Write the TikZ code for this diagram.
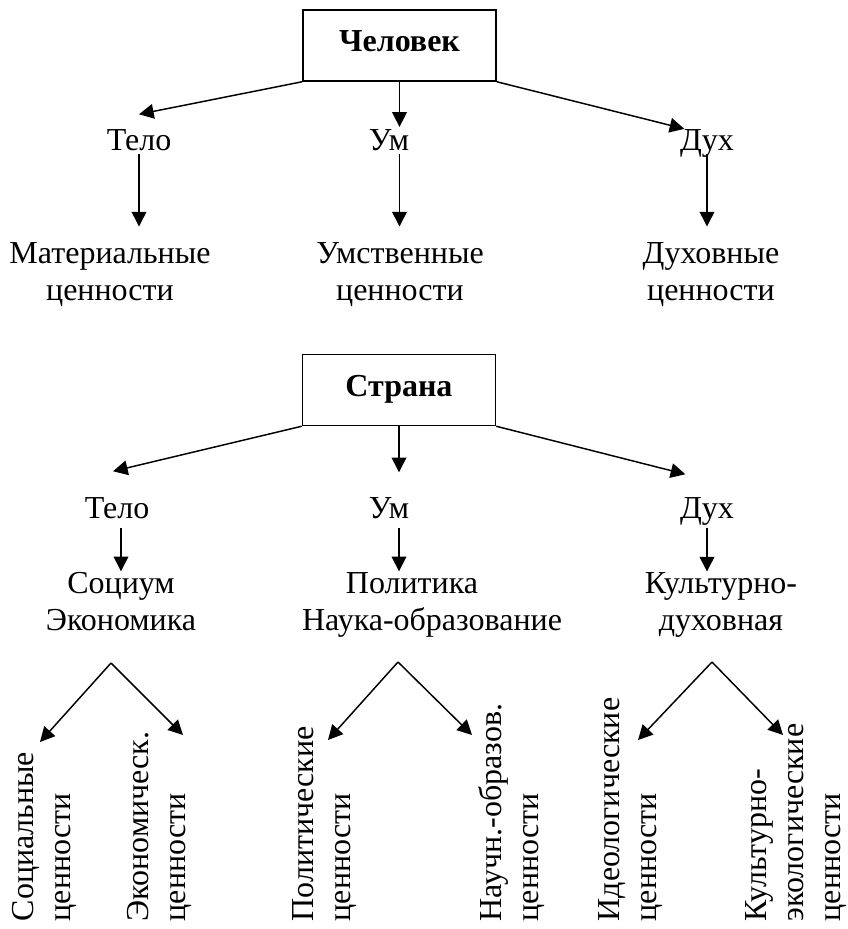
\documentclass[tikz,border=0pt]{standalone}
\usepackage{fontspec}
\setmainfont{Liberation Serif}
\usetikzlibrary{arrows.meta,calc}

\begin{document}
\fontsize{24pt}{27.6pt}\selectfont
\begin{tikzpicture}[x=0.75pt,y=-0.75pt,line width=1.1pt,
		arr/.style={-{Triangle[length=11pt,width=11pt]}},
		root/.style={draw,minimum width=144.75pt,minimum height=53.25pt,font=\bfseries,text depth=0.25em},
		lbl/.style={inner sep=0pt,text height=0.7em,text depth=0.1em,anchor=base},
		val/.style={inner sep=0pt,align=center,anchor=base},
		rot/.style={inner sep=0pt,align=left,rotate=90,anchor=base west}]
	\useasboundingbox (0,0) rectangle (847,929);

	% Человек
	\node[root] (chel) at (399.5,45.5) {Человек};
	\node[lbl] (telo1) at (139,150) {Тело};
	\node[lbl] (um1) at (389,150) {Ум};
	\node[lbl] (dux1) at (707,150) {Дух};
	\node[val] (mat) at (110,300) {Материальные\\ценности};
	\node[val] (umv) at (400,300) {Умственные\\ценности};
	\node[val] (duxv) at (711,300) {Духовные\\ценности};

	\draw[arr] (chel.south west) -- ($(telo1.north)+(0,-12.6)$);
	\draw[arr] (chel.south) -- (chel.south |- um1.north);
	\draw[arr] (chel.south east) -- ($(dux1.north west)+(5,2)$);
	\draw[arr] (telo1.south) -- ($(telo1.south |- mat.north)+(0,-15)$);
	\draw[arr] (chel.south |- um1.south) -- ($(chel.south |- umv.north)+(0,-15)$);
	\draw[arr] (dux1.south) -- ($(dux1.south |- duxv.north)+(0,-15)$);

	% Страна
	\node[root] (strana) at (399,390) {Страна};
	\node[lbl] (telo2) at (117,518) {Тело};
	\node[lbl] (um2) at (389,518) {Ум};
	\node[lbl] (dux2) at (707,518) {Дух};
	\node[val] (soc) at (121,630) {Социум\\Экономика};
	\node[val] (pol) at (412,593) {Политика};
	\node[val] (nauka) at (432,630) {Наука-образование};
	\node[val] (kult) at (721,630) {Культурно-\\духовная};

	\draw[arr] (strana.south west) -- ($(telo2.north)+(-4,-23.6)$);
	\draw[arr] (strana.south) -- ($(strana.south |- um2.north)+(0,-22.6)$);
	\draw[arr] (strana.south east) -- ($(dux2.north west)+(6,-20.6)$);
	\draw[arr] ($(soc.north |- telo2.south)+(0,6)$) -- (soc.north);
	\draw[arr] ($(strana.south |- um2.south)+(0,6)$) -- (strana.south |- pol.north);
	\draw[arr] ($(dux2.south)+(0,6)$) -- (dux2.south |- kult.north);

	% ценности
	\coordinate (f1) at (111,663);
	\coordinate (f1a) at (40,742);
	\coordinate (f1b) at (183,735);
	\coordinate (f2) at (398,662);
	\coordinate (f2a) at (328,740);
	\coordinate (f2b) at (472,735);
	\coordinate (f3) at (712,662);
	\coordinate (f3a) at (638,740);
	\coordinate (f3b) at (783,735);

	\draw[arr] (f1) -- (f1a);
	\draw[arr] (f1) -- (f1b);
	\draw[arr] (f2) -- (f2a);
	\draw[arr] (f2) -- (f2b);
	\draw[arr] (f3) -- (f3a);
	\draw[arr] (f3) -- (f3b);

	\node[rot] (socv) at (70,922) {Социальные\\ценности};
	\node[rot] (ekv) at (185,922) {Экономическ.\\ценности};
	\node[rot] (polv) at (350,922) {Политические\\ценности};
	\node[rot] (nauv) at (538,922) {Научн.-образов.\\ценности};
	\node[rot] (ideov) at (656,922) {Идеологические\\ценности};
	\node[rot] (kultv) at (840,922) {Культурно-\\экологические\\ценности};
\end{tikzpicture}
\end{document}
